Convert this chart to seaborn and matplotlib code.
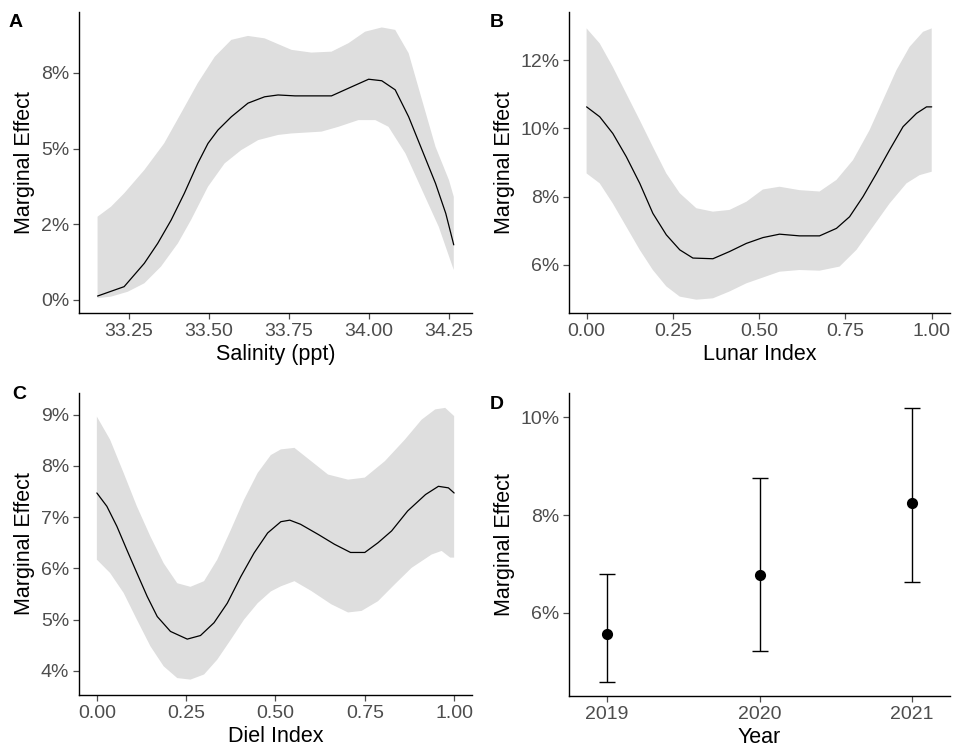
import numpy as np
import pandas as pd
import matplotlib
matplotlib.use("Agg")
import matplotlib.pyplot as plt
import seaborn as sns
from matplotlib.ticker import FuncFormatter, FixedLocator

# ---------------- Data (percent values) ----------------
# Panel A: Salinity
sal_x = [33.152, 33.235, 33.298, 33.34, 33.382, 33.423, 33.465, 33.497, 33.528, 33.57,
         33.622, 33.674, 33.716, 33.769, 33.883, 33.946, 33.999, 34.04, 34.082, 34.124,
         34.166, 34.208, 34.24, 34.265]
sal_fit = [0.13, 0.44, 1.21, 1.87, 2.64, 3.52, 4.51, 5.17, 5.61, 6.05,
           6.50, 6.71, 6.77, 6.74, 6.74, 7.04, 7.29, 7.24, 6.94, 6.05,
           4.95, 3.85, 2.86, 1.82]
sal_up_x = [33.152, 33.194, 33.235, 33.298, 33.36, 33.413, 33.465, 33.518, 33.57, 33.622,
            33.674, 33.716, 33.758, 33.82, 33.883, 33.936, 33.988, 34.04, 34.082, 34.124,
            34.166, 34.208, 34.25, 34.265]
sal_up = [2.75, 3.08, 3.52, 4.29, 5.17, 6.17, 7.16, 8.03, 8.59, 8.72,
          8.64, 8.45, 8.26, 8.17, 8.20, 8.48, 8.86, 9.00, 8.92, 8.15,
          6.60, 5.06, 3.96, 3.41]
sal_lo_x = [33.152, 33.194, 33.246, 33.298, 33.35, 33.403, 33.444, 33.497, 33.549, 33.601,
            33.654, 33.716, 33.758, 33.852, 33.905, 33.967, 34.02, 34.061, 34.114, 34.166,
            34.218, 34.265]
sal_lo = [0.06, 0.11, 0.27, 0.55, 1.10, 1.87, 2.64, 3.74, 4.51, 4.95,
          5.28, 5.45, 5.50, 5.56, 5.72, 5.94, 5.94, 5.72, 4.84, 3.63,
          2.42, 0.99]

# Panel B: Lunar index
lun_x = [0.0, 0.038, 0.076, 0.115, 0.154, 0.192, 0.231, 0.27, 0.308, 0.366,
         0.414, 0.463, 0.511, 0.559, 0.617, 0.675, 0.724, 0.762, 0.801, 0.84,
         0.878, 0.917, 0.956, 0.985, 1.0]
lun_fit = [10.63, 10.34, 9.85, 9.17, 8.39, 7.51, 6.88, 6.44, 6.20, 6.18,
           6.39, 6.63, 6.80, 6.90, 6.85, 6.85, 7.07, 7.41, 8.00, 8.68,
           9.37, 10.05, 10.44, 10.63, 10.63]
lun_up_x = [0.0, 0.038, 0.076, 0.115, 0.154, 0.192, 0.231, 0.27, 0.318, 0.366,
            0.414, 0.463, 0.511, 0.559, 0.617, 0.675, 0.724, 0.772, 0.82, 0.859,
            0.898, 0.936, 0.975, 1.0]
lun_up = [12.93, 12.49, 11.80, 11.02, 10.24, 9.46, 8.68, 8.10, 7.66, 7.56,
          7.61, 7.85, 8.21, 8.29, 8.19, 8.15, 8.49, 9.07, 9.95, 10.83,
          11.71, 12.39, 12.83, 12.93]
lun_lo_x = [0.0, 0.038, 0.076, 0.115, 0.154, 0.192, 0.231, 0.27, 0.318, 0.366,
            0.414, 0.463, 0.511, 0.559, 0.617, 0.675, 0.733, 0.782, 0.83, 0.878,
            0.927, 0.965, 1.0]
lun_lo = [8.68, 8.39, 7.80, 7.12, 6.44, 5.85, 5.37, 5.07, 4.98, 5.02,
          5.22, 5.46, 5.63, 5.80, 5.85, 5.83, 5.95, 6.44, 7.12, 7.80,
          8.39, 8.63, 8.73]

# Panel C: Diel index
die_x = [0.0, 0.028, 0.056, 0.084, 0.112, 0.141, 0.169, 0.206, 0.253, 0.29,
         0.328, 0.365, 0.403, 0.44, 0.478, 0.515, 0.54, 0.57, 0.62, 0.665,
         0.71, 0.75, 0.787, 0.825, 0.87, 0.92, 0.956, 0.984, 1.0]
die_fit = [7.47, 7.21, 6.82, 6.36, 5.91, 5.45, 5.06, 4.77, 4.62, 4.69,
           4.94, 5.32, 5.84, 6.30, 6.69, 6.91, 6.94, 6.86, 6.66, 6.47,
           6.31, 6.31, 6.50, 6.73, 7.12, 7.44, 7.60, 7.57, 7.47]
die_up_x = [0.0, 0.037, 0.075, 0.112, 0.15, 0.187, 0.225, 0.262, 0.30, 0.337,
            0.375, 0.412, 0.45, 0.487, 0.515, 0.553, 0.60, 0.647, 0.703, 0.75,
            0.806, 0.862, 0.909, 0.947, 0.975, 1.0]
die_up = [8.96, 8.51, 7.86, 7.21, 6.62, 6.10, 5.71, 5.64, 5.75, 6.17,
          6.75, 7.34, 7.86, 8.21, 8.32, 8.35, 8.09, 7.83, 7.73, 7.77,
          8.09, 8.51, 8.90, 9.10, 9.13, 8.97]
die_lo_x = [0.0, 0.037, 0.075, 0.112, 0.15, 0.187, 0.225, 0.262, 0.30, 0.337,
            0.375, 0.412, 0.45, 0.487, 0.515, 0.553, 0.60, 0.656, 0.703, 0.741,
            0.787, 0.834, 0.881, 0.937, 0.965, 0.989, 1.0]
die_lo = [6.17, 5.91, 5.52, 5.00, 4.48, 4.09, 3.86, 3.83, 3.93, 4.22,
          4.61, 5.00, 5.32, 5.55, 5.65, 5.75, 5.56, 5.30, 5.14, 5.17,
          5.36, 5.69, 6.01, 6.27, 6.34, 6.21, 6.21]

# Panel D: Year
years = ["2019", "2020", "2021"]
year_fit = [5.57, 6.78, 8.24]
year_lo = [4.59, 5.23, 6.63]
year_hi = [6.80, 8.76, 10.20]

# ---------------- Styling ----------------
sns.set_theme(style="ticks")
plt.rcParams["font.family"] = ["Liberation Sans", "DejaVu Sans"]

W, H = 954, 756
fig = plt.figure(figsize=(W / 100, H / 100), dpi=100)

def add_axes(l, t, r, b):
    return fig.add_axes([l / W, 1 - b / H, (r - l) / W, (b - t) / H])

axA = add_axes(79, 12, 472, 313)
axB = add_axes(569, 12, 950, 313)
axC = add_axes(79, 393, 472, 695)
axD = add_axes(569, 393, 950, 696)

RIB = "#DEDEDE"
TICK_COL = "#4D4D4D"

def pct_fmt(v, pos):
    return f"{round(v):.0f}%"

def smooth_panel(ax, x, fit, ux, up, lx, lo):
    poly_x = list(ux) + list(lx)[::-1]
    poly_y = list(up) + list(lo)[::-1]
    ax.fill(poly_x, poly_y, color=RIB, linewidth=0, zorder=1)
    df = pd.DataFrame({"x": x, "y": fit})
    sns.lineplot(data=df, x="x", y="y", ax=ax, color="black", linewidth=0.9, zorder=3)

def style(ax, xlabel, yticks, ylim, xlim, letter, lx, ly):
    ax.set_xlim(*xlim)
    ax.set_ylim(*ylim)
    ax.yaxis.set_major_locator(FixedLocator(yticks))
    ax.yaxis.set_major_formatter(FuncFormatter(pct_fmt))
    ax.set_xlabel(xlabel, fontsize=15.5, color="black", labelpad=3)
    ax.set_ylabel("Marginal Effect", fontsize=15.5, color="black", labelpad=4)
    ax.tick_params(axis="both", labelsize=14, colors=TICK_COL, length=4, width=0.9,
                   labelcolor=TICK_COL, pad=3)
    for s in ["top", "right"]:
        ax.spines[s].set_visible(False)
    for s in ["left", "bottom"]:
        ax.spines[s].set_color("black")
        ax.spines[s].set_linewidth(1.0)
    fig.text(lx / W, 1 - ly / H, letter, fontsize=14, fontweight="bold",
             ha="left", va="top", color="black")

# Panel A
smooth_panel(axA, sal_x, sal_fit, sal_up_x, sal_up, sal_lo_x, sal_lo)
style(axA, "Salinity (ppt)", [0, 2.5, 5, 7.5], (-0.43, 9.51), (33.094, 34.322), "A", 9, 14)
axA.set_xticks([33.25, 33.50, 33.75, 34.00, 34.25])
axA.set_xticklabels(["33.25", "33.50", "33.75", "34.00", "34.25"])

# Panel B
smooth_panel(axB, lun_x, lun_fit, lun_up_x, lun_up, lun_lo_x, lun_lo)
style(axB, "Lunar Index", [6, 8, 10, 12], (4.59, 13.41), (-0.051, 1.053), "B", 490, 14)
axB.set_xticks([0, 0.25, 0.5, 0.75, 1.0])
axB.set_xticklabels(["0.00", "0.25", "0.50", "0.75", "1.00"])

# Panel C
smooth_panel(axC, die_x, die_fit, die_up_x, die_up, die_lo_x, die_lo)
style(axC, "Diel Index", [4, 5, 6, 7, 8, 9], (3.53, 9.42), (-0.05, 1.05), "C", 12, 386)
axC.set_xticks([0, 0.25, 0.5, 0.75, 1.0])
axC.set_xticklabels(["0.00", "0.25", "0.50", "0.75", "1.00"])

# Panel D
dfD = pd.DataFrame({"Year": years, "fit": year_fit, "lo": year_lo, "hi": year_hi})
sns.pointplot(data=dfD, x="Year", y="fit", ax=axD, color="black", linestyle="none",
              markers="o", markersize=6, errorbar=None, zorder=4)
pos = np.arange(len(years))
axD.errorbar(pos, dfD["fit"], yerr=[dfD["fit"] - dfD["lo"], dfD["hi"] - dfD["fit"]],
             fmt="none", ecolor="black", elinewidth=1.0, capsize=5.5, capthick=1.0, zorder=3)
style(axD, "Year", [6, 8, 10], (4.30, 10.50), (-0.25, 2.25), "D", 490, 396)

fig.savefig("out.png", dpi=100)
